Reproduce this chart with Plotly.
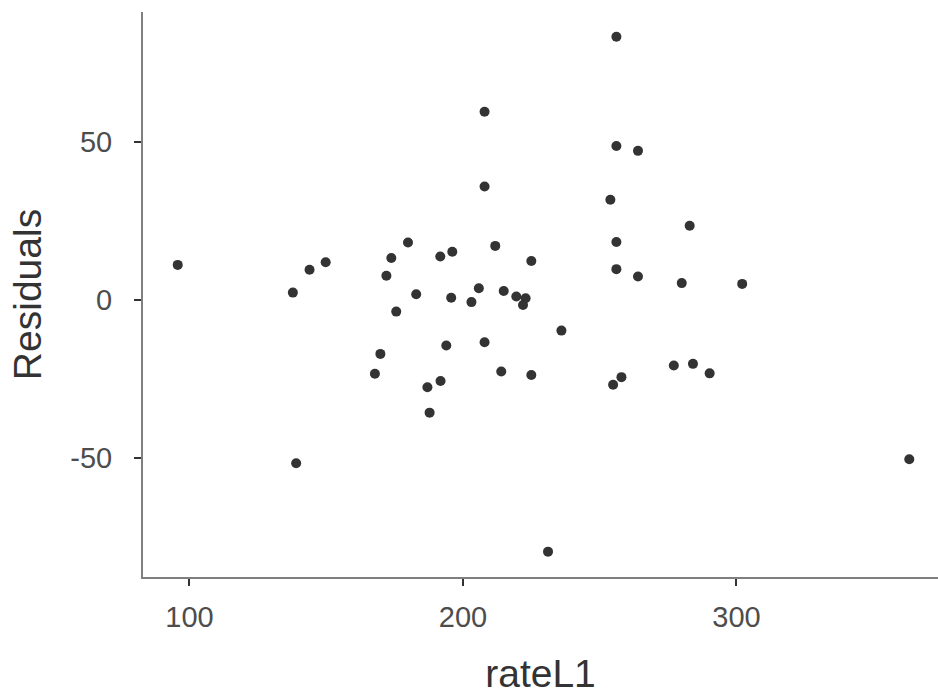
import plotly.graph_objects as go

rateL1 = [95.7, 137.8, 143.9, 149.8, 139.0, 167.8, 169.8, 172.0, 173.8, 175.6,
          179.9, 182.9, 187.0, 187.8, 191.8, 191.7, 193.9, 195.7, 196.1, 203.1,
          205.8, 207.9, 207.9, 207.9, 211.8, 214.0, 214.9, 219.5, 222.9, 221.95,
          225.0, 225.0, 231.1, 236.0, 253.9, 256.1, 256.1, 264.0, 256.1, 256.1,
          264.0, 257.95, 254.9, 277.1, 280.0, 282.9, 284.1, 290.2, 302.1, 363.2]
residuals = [11.05, 2.3, 9.5, 11.9, -51.6, -23.3, -17.05, 7.6, 13.2, -3.7,
             18.1, 1.8, -27.6, -35.6, -25.6, 13.7, -14.4, 0.7, 15.2, -0.7,
             3.7, 35.8, -13.4, 59.4, 17.05, -22.6, 2.8, 1.05, 0.5, -1.6,
             12.3, -23.7, -79.5, -9.7, 31.6, 83.1, 48.6, 47.05, 18.3, 9.7,
             7.4, -24.4, -26.8, -20.7, 5.3, 23.4, -20.2, -23.2, 5.05, -50.3]

x_ticks = [100, 200, 300]
x_tick_labels = ["100", "200", "300"]
y_ticks = [-50, 0, 50]
y_tick_labels = ["-50", "0", "50"]

fig = go.Figure(go.Scatter(
    x=rateL1, y=residuals, mode="markers",
    marker=dict(size=10, color="#333333", line=dict(width=0)),
    hoverinfo="x+y",
))

axis_common = dict(
    showline=True, linecolor="#7f7f7f", linewidth=2,
    showgrid=False, zeroline=False,
    ticks="outside", ticklen=7, tickwidth=2, tickcolor="#333333",
    tickfont=dict(family="Liberation Sans, Arial, sans-serif", size=29, color="#4d4d4d"),
    title_font=dict(family="Liberation Sans, Arial, sans-serif", size=39, color="#333333"),
)

fig.update_layout(
    width=938, height=697,
    margin=dict(l=143, r=0, t=12, b=120),
    plot_bgcolor="white", paper_bgcolor="white",
    showlegend=False,
    xaxis=dict(axis_common, range=[83.0, 373.7], tickvals=x_ticks, ticktext=x_tick_labels,
               title=dict(text="rateL1", standoff=28), ticklabelstandoff=6),
    yaxis=dict(axis_common, range=[-87.5, 90.9], tickvals=y_ticks, ticktext=y_tick_labels,
               title=dict(text="Residuals", standoff=17), ticklabelstandoff=16),
)

fig.write_html("out.html")
